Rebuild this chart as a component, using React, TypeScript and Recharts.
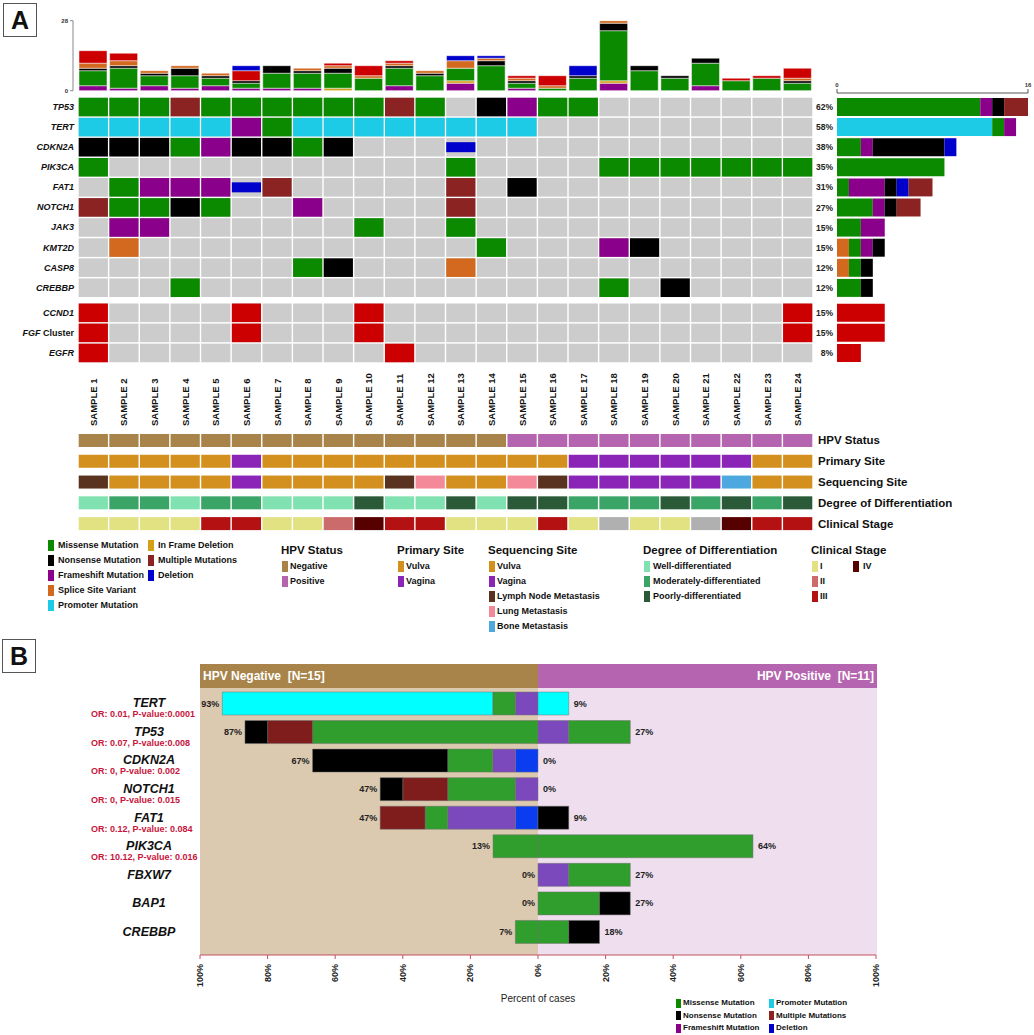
import React from "react";
import { BarChart, Bar, XAxis, YAxis, ScatterChart, Scatter, LabelList } from "recharts";

const FONT = "'Liberation Sans', Arial, Helvetica, sans-serif";

// ---------- Panel A data ----------
const samples = [
  "SAMPLE 1", "SAMPLE 2", "SAMPLE 3", "SAMPLE 4", "SAMPLE 5", "SAMPLE 6", "SAMPLE 7", "SAMPLE 8",
  "SAMPLE 9", "SAMPLE 10", "SAMPLE 11", "SAMPLE 12", "SAMPLE 13", "SAMPLE 14", "SAMPLE 15", "SAMPLE 16",
  "SAMPLE 17", "SAMPLE 18", "SAMPLE 19", "SAMPLE 20", "SAMPLE 21", "SAMPLE 22", "SAMPLE 23", "SAMPLE 24",
];

// mutation counts per sample (top bars), stacked bottom -> top
const topFrameshift = [2, 1, 2, 1, 2, 1, 1, 1, 0, 0, 2, 0, 3, 0, 1, 0, 0, 3, 0, 0, 2, 0, 0, 0];
const topInframe = [0, 0, 0, 0, 0, 0, 0, 0, 1, 0, 0, 0, 1, 0, 0, 0, 0, 1, 0, 0, 0, 0, 0, 0];
const topMissense = [6, 8, 4, 5, 3, 2, 6, 6, 6, 5, 7, 6, 5, 10, 2, 1, 5, 20, 8, 5, 9, 4, 5, 3];
const topNonsense = [1, 1, 1, 3, 1, 1, 3, 1, 2, 0, 1, 1, 0, 2, 1, 0, 1, 3, 2, 1, 2, 0, 0, 1];
const topSplice = [2, 2, 1, 1, 1, 0, 0, 1, 1, 1, 1, 1, 3, 1, 1, 1, 0, 1, 0, 0, 0, 0, 0, 1];
const topAmp = [5, 3, 0, 0, 0, 4, 0, 0, 1, 4, 1, 0, 0, 0, 1, 4, 0, 0, 0, 0, 0, 1, 1, 4];
const topDeletion = [0, 0, 0, 0, 0, 2, 0, 0, 0, 0, 0, 0, 2, 1, 0, 0, 4, 0, 0, 0, 0, 0, 0, 0];

const genes = ["TP53", "TERT", "CDKN2A", "PIK3CA", "FAT1", "NOTCH1", "JAK3", "KMT2D", "CASP8", "CREBBP", "CCND1", "FGF Cluster", "EGFR"];
const genePct = ["62%", "58%", "38%", "35%", "31%", "27%", "15%", "15%", "12%", "12%", "15%", "15%", "8%"];
// M missense, N nonsense, F frameshift, S splice, P promoter, X multiple, D deletion, A amplification
const geneRows = [
  "MMMXMMMMMMXM.NFMM.......",
  "PPPPPFMPPPPPPPP.........",
  "NNNMFNNMN...D...........",
  "M...........M....MMMMMMM",
  ".MFFFDX.....X.N.........",
  "XMMNM..F....X...........",
  ".FF......M..M...........",
  ".S...........M...FN.....",
  ".......MN...S...........",
  "...M.............M.N....",
  "A....A...A.............A",
  "A....A...A.............A",
  "A.........A.............",
];

// right-side counts per gene
const rbSplice = [0, 0, 0, 0, 0, 0, 0, 1, 1, 0, 0, 0, 0];
const rbPromoter = [0, 13, 0, 0, 0, 0, 0, 0, 0, 0, 0, 0, 0];
const rbMissense = [12, 1, 2, 9, 1, 3, 2, 1, 1, 2, 0, 0, 0];
const rbFrameshift = [1, 1, 1, 0, 3, 1, 2, 1, 0, 0, 0, 0, 0];
const rbNonsense = [1, 0, 6, 0, 1, 1, 0, 1, 1, 1, 0, 0, 0];
const rbDeletion = [0, 0, 1, 0, 1, 0, 0, 0, 0, 0, 0, 0, 0];
const rbMultiple = [2, 0, 0, 0, 2, 2, 0, 0, 0, 0, 0, 0, 0];
const rbAmp = [0, 0, 0, 0, 0, 0, 0, 0, 0, 0, 4, 4, 2];

const trackNames = ["HPV Status", "Primary Site", "Sequencing Site", "Degree of Differentiation", "Clinical Stage"];
const hpvStatus = "NNNNNNNNNNNNNNPPPPPPPPPP";
const primarySite = "VVVVVGVVVVVVVVVVGGGGGGVV";
const seqSite = "LVVVVGVVVVLUVVULGGGGGBVV";
const differentiation = "WMMWMMWWWPWWPWPPMMMPMPMP";
const clinicalStage = "11113311243311131x11x433";
const tracks = [hpvStatus, primarySite, seqSite, differentiation, clinicalStage];

// ---------- Panel B data ----------
const genesB = ["TERT", "TP53", "CDKN2A", "NOTCH1", "FAT1", "PIK3CA", "FBXW7", "BAP1", "CREBBP"];
const orLabels = [
  "OR: 0.01, P-value:0.0001", "OR: 0.07, P-value:0.008", "OR: 0, P-value: 0.002", "OR: 0, P-value: 0.015",
  "OR: 0.12, P-value: 0.084", "OR: 10.12, P-value: 0.016", "", "", "",
];
// HPV negative (N=15), percent of cases
const negDeletion = [0, 0, 6.7, 0, 6.7, 0, 0, 0, 0];
const negFrameshift = [6.7, 0, 6.7, 6.7, 20, 0, 0, 0, 0];
const negMissense = [6.7, 66.7, 13.3, 20, 6.7, 13.3, 0, 0, 6.7];
const negPromoter = [80, 0, 0, 0, 0, 0, 0, 0, 0];
const negMultiple = [0, 13.3, 0, 13.3, 13.3, 0, 0, 0, 0];
const negNonsense = [0, 6.7, 40, 6.7, 0, 0, 0, 0, 0];
const negLabels = ["93%", "87%", "67%", "47%", "47%", "13%", "0%", "0%", "7%"];
// HPV positive (N=11)
const posDeletion = [0, 0, 0, 0, 0, 0, 0, 0, 0];
const posFrameshift = [0, 9.1, 0, 0, 0, 0, 9.1, 0, 0];
const posMissense = [0, 18.2, 0, 0, 0, 63.6, 18.2, 18.2, 9.1];
const posPromoter = [9.1, 0, 0, 0, 0, 0, 0, 0, 0];
const posMultiple = [0, 0, 0, 0, 0, 0, 0, 0, 0];
const posNonsense = [0, 0, 0, 0, 9.1, 0, 0, 9.1, 9.1];
const posLabels = ["9%", "27%", "0%", "0%", "9%", "64%", "27%", "27%", "18%"];
const pctTicks = [-100, -80, -60, -40, -20, 0, 20, 40, 60, 80, 100];
const pctTickLabels = ["100%", "80%", "60%", "40%", "20%", "0%", "20%", "40%", "60%", "80%", "100%"];

// ---------- colours / layout ----------
const COL = {
  mis: "#0b8a00", non: "#000000", fs: "#8b008b", spl: "#d2691e", pro: "#1ecbe6",
  inf: "#d4a017", mul: "#8b2323", del: "#0000cd", amp: "#cc0000", grey: "#cccccc",
};
const codeColor: Record<string, string> = {
  M: COL.mis, N: COL.non, F: COL.fs, S: COL.spl, P: COL.pro, I: COL.inf, X: COL.mul, D: COL.del, A: COL.amp,
};
const trackColors: Record<string, string>[] = [
  { N: "#a8844a", P: "#b565b0" },
  { V: "#d4901f", G: "#8b25b8" },
  { V: "#d4901f", G: "#8b25b8", L: "#5a3320", U: "#f4899a", B: "#4ea8e0" },
  { W: "#80e2b0", M: "#3aa566", P: "#2a5a38" },
  { "1": "#e2e282", "2": "#cc6b6b", "3": "#b41212", "4": "#560000", x: "#b0b0b0" },
];
const BC = { mis: "#2f9e2c", non: "#000000", fs: "#7b49bb", pro: "#00ffff", mul: "#7f1c1c", del: "#0a3cf0" };

const ROW_POS = [0, 1, 2, 3, 4, 5, 6, 7, 8, 9, 10.25, 11.25, 12.25];
const CELL_W = 29.2;
const CELL_H = 18.6;

const sampleNums = samples.map((_, i) => i + 1);
const topData = samples.map((name, i) => ({
  name, fs: topFrameshift[i], inf: topInframe[i], mis: topMissense[i], non: topNonsense[i],
  spl: topSplice[i], amp: topAmp[i], del: topDeletion[i],
}));
const oncoData = genes.flatMap((g, gi) =>
  geneRows[gi].split("").map((c, si) => ({ s: si + 1, y: ROW_POS[gi], code: c }))
);
const trackData = tracks.flatMap((codes, ti) =>
  codes.split("").map((c, si) => ({ s: si + 1, row: ti, t: ti, c }))
);
const rightData = genes.map((gene, i) => ({
  gene, spl: rbSplice[i], pro: rbPromoter[i], mis: rbMissense[i], fs: rbFrameshift[i],
  non: rbNonsense[i], del: rbDeletion[i], mul: rbMultiple[i], amp: rbAmp[i],
}));
const bData = genesB.map((gene, i) => ({
  gene,
  nDel: -negDeletion[i], nFs: -negFrameshift[i], nMis: -negMissense[i], nPro: -negPromoter[i],
  nMul: -negMultiple[i], nNon: -negNonsense[i], nEdge: -0.0001, nLbl: negLabels[i],
  pDel: posDeletion[i], pFs: posFrameshift[i], pMis: posMissense[i], pPro: posPromoter[i],
  pMul: posMultiple[i], pNon: posNonsense[i], pEdge: 0.0001, pLbl: posLabels[i],
}));

// ---------- small render helpers ----------
function OncoCell(props: any) {
  const { cx, cy, payload } = props;
  const c = payload.code;
  const x = cx - CELL_W / 2;
  const y = cy - CELL_H / 2;
  return (
    <g>
      <rect x={x} y={y} width={CELL_W} height={CELL_H} fill={COL.grey} />
      {c === "D" && <rect x={x} y={cy - 5} width={CELL_W} height={10} fill={COL.del} />}
      {c !== "." && c !== "D" && <rect x={x} y={y} width={CELL_W} height={CELL_H} fill={codeColor[c]} />}
    </g>
  );
}

function TrackCell(props: any) {
  const { cx, cy, payload } = props;
  return <rect x={cx - CELL_W / 2} y={cy - 6.5} width={CELL_W} height={13} fill={trackColors[payload.t][payload.c]} />;
}

function GeneTick(props: any) {
  const { x, y, payload } = props;
  const name = genes[ROW_POS.indexOf(payload.value)];
  if (name === "FGF Cluster") {
    return (
      <text x={x} y={y} textAnchor="end" dominantBaseline="central" fontSize={9} fontWeight="bold" fill="#111">
        <tspan fontStyle="italic">FGF</tspan>
        <tspan>{" Cluster"}</tspan>
      </text>
    );
  }
  return (
    <text x={x} y={y} textAnchor="end" dominantBaseline="central" fontSize={9} fontWeight="bold" fontStyle="italic" fill="#111">
      {name}
    </text>
  );
}

function SampleTick(props: any) {
  const { x, y, payload } = props;
  const yy = y + 63;
  return (
    <text x={x} y={yy} transform={`rotate(-90 ${x} ${yy})`} textAnchor="start" dominantBaseline="central" fontSize={9.5} fontWeight="bold" fill="#111">
      {samples[payload.value - 1]}
    </text>
  );
}

function TrackTick(props: any) {
  const { x, y, payload } = props;
  return (
    <text x={x} y={y} dominantBaseline="central" fontSize={11.5} fontWeight="bold" fill="#111">
      {trackNames[payload.value]}
    </text>
  );
}

function PctTick(props: any) {
  const { x, y, payload } = props;
  return (
    <text x={x} y={y} transform={`rotate(-90 ${x} ${y})`} textAnchor="end" dominantBaseline="central" fontSize={9} fontWeight="bold" fill="#222">
      {pctTickLabels[pctTicks.indexOf(payload.value)]}
    </text>
  );
}

function GeneTickB(props: any) {
  const { x, y, payload } = props;
  const i = genesB.indexOf(payload.value);
  return (
    <g>
      <text x={x - 51} y={y} textAnchor="middle" dominantBaseline="central" fontSize={12.5} fontWeight="bold" fontStyle="italic" fill="#111">
        {payload.value}
      </text>
      {orLabels[i] && (
        <text x={x - 109} y={y + 11} dominantBaseline="central" fontSize={9} fontWeight="bold" fill="#c8143c">
          {orLabels[i]}
        </text>
      )}
    </g>
  );
}

function edgeBox(props: any) {
  const vb = props.viewBox || {};
  const x = props.x ?? vb.x;
  const y = props.y ?? vb.y;
  const w = props.width ?? vb.width ?? 0;
  const h = props.height ?? vb.height ?? 0;
  return { x, y, w, h };
}

function NegLabel(props: any) {
  const { x, y, w, h } = edgeBox(props);
  return (
    <text x={Math.min(x, x + w) - 3} y={y + h / 2} textAnchor="end" dominantBaseline="central" fontSize={9} fontWeight="bold" fill="#222">
      {props.value}
    </text>
  );
}

function PosLabel(props: any) {
  const { x, y, w, h } = edgeBox(props);
  return (
    <text x={Math.max(x, x + w) + 5} y={y + h / 2} dominantBaseline="central" fontSize={9} fontWeight="bold" fill="#222">
      {props.value}
    </text>
  );
}

const abs: React.CSSProperties = { position: "absolute", left: 0, top: 0 };

function Txt({ x, y, size, bold = true, color = "#111", children }: any) {
  return (
    <div style={{
      position: "absolute", left: x, top: y - size * 0.6, fontSize: size, lineHeight: `${size * 1.2}px`,
      fontWeight: bold ? "bold" : "normal", color, whiteSpace: "pre",
    }}>{children}</div>
  );
}

function Sw({ x, y, color, w = 6, h = 11 }: any) {
  return <div style={{ position: "absolute", left: x, top: y - h / 2, width: w, height: h, background: color }} />;
}

function PanelBox({ label, left, top }: any) {
  return (
    <div style={{
      position: "absolute", left, top, width: 32, height: 32, border: "1.5px solid #555",
      display: "flex", alignItems: "center", justifyContent: "center", fontSize: 25, fontWeight: "bold", color: "#111",
    }}>{label}</div>
  );
}

// ---------- Panel A pieces ----------
function TopBars() {
  const series: [string, string][] = [
    ["fs", COL.fs], ["inf", COL.inf], ["mis", COL.mis], ["non", COL.non], ["spl", COL.spl], ["amp", COL.amp], ["del", COL.del],
  ];
  return (
    <div style={abs}>
      <BarChart width={1034} height={100} data={topData} margin={{ top: 20.7, right: 221, bottom: 9.3, left: 53 }} barSize={28}>
        <XAxis dataKey="name" hide padding={{ left: 5, right: 0 }} />
        <YAxis
          type="number" domain={[0, 28]} allowDataOverflow ticks={[0, 28]} width={20} tickSize={3} tickMargin={2}
          axisLine={{ stroke: "#888" }} tickLine={{ stroke: "#888" }}
          tick={{ fontSize: 6, fontWeight: "bold", fill: "#333" }}
        />
        {series.map(([k, c]) => (
          <Bar key={k} dataKey={k} stackId="a" fill={c} stroke="#ffffff" strokeWidth={0.5} isAnimationActive={false} />
        ))}
      </BarChart>
    </div>
  );
}

function Oncoprint() {
  return (
    <div style={abs}>
      <ScatterChart width={1034} height={440} margin={{ top: 97, right: 221, bottom: 0, left: 0 }}>
        <XAxis
          type="number" dataKey="s" domain={[0.5, 24.5]} allowDataOverflow ticks={sampleNums} interval={0}
          height={77} axisLine={false} tickLine={false} tickSize={0} tickMargin={0}
          tick={(p: any) => <SampleTick {...p} />}
        />
        <YAxis
          type="number" dataKey="y" domain={[-0.5, 12.75]} allowDataOverflow reversed ticks={ROW_POS} interval={0}
          width={78} axisLine={false} tickLine={false} tickSize={0} tickMargin={4}
          tick={(p: any) => <GeneTick {...p} />}
        />
        <Scatter data={oncoData} shape={(p: any) => <OncoCell {...p} />} isAnimationActive={false} />
      </ScatterChart>
    </div>
  );
}

const rbSeries: [string, string][] = [
  ["spl", COL.spl], ["pro", COL.pro], ["mis", COL.mis], ["fs", COL.fs], ["non", COL.non], ["del", COL.del], ["mul", COL.mul], ["amp", COL.amp],
];

function RightBars() {
  const pctOf = (g: string) => genePct[genes.indexOf(g)];
  return (
    <>
      <div style={abs}>
        <BarChart width={1034} height={298} data={rightData.slice(0, 10)} layout="vertical" margin={{ top: 79, right: 6, bottom: 0, left: 813 }} barSize={18}>
          <XAxis
            type="number" orientation="top" domain={[0, 16]} allowDataOverflow ticks={[0, 16]} height={14}
            tickSize={4} tickMargin={2} axisLine={{ stroke: "#555" }} tickLine={{ stroke: "#555" }}
            tick={{ fontSize: 6, fontWeight: "bold", fill: "#333" }}
          />
          <YAxis
            type="category" dataKey="gene" width={24} padding={{ top: 4, bottom: 0 }} interval={0}
            axisLine={false} tickLine={false} tickSize={0} tickMargin={4} tickFormatter={pctOf}
            tick={{ fontSize: 8.5, fontWeight: "bold", fill: "#222" }}
          />
          {rbSeries.map(([k, c]) => (
            <Bar key={k} dataKey={k} stackId="r" fill={c} isAnimationActive={false} />
          ))}
        </BarChart>
      </div>
      <div style={abs}>
        <BarChart width={1034} height={363} data={rightData.slice(10)} layout="vertical" margin={{ top: 302.7, right: 6, bottom: 0, left: 813 }} barSize={18}>
          <XAxis type="number" domain={[0, 16]} allowDataOverflow hide />
          <YAxis
            type="category" dataKey="gene" width={24} interval={0}
            axisLine={false} tickLine={false} tickSize={0} tickMargin={4} tickFormatter={pctOf}
            tick={{ fontSize: 8.5, fontWeight: "bold", fill: "#222" }}
          />
          {rbSeries.map(([k, c]) => (
            <Bar key={k} dataKey={k} stackId="r" fill={c} isAnimationActive={false} />
          ))}
        </BarChart>
      </div>
    </>
  );
}

function Tracks() {
  return (
    <div style={abs}>
      <ScatterChart width={1034} height={534} margin={{ top: 430.1, right: 0, bottom: 0, left: 78 }}>
        <XAxis type="number" dataKey="s" domain={[0.5, 24.5]} allowDataOverflow hide />
        <YAxis
          type="number" dataKey="row" orientation="right" domain={[-0.5, 4.5]} allowDataOverflow reversed
          ticks={[0, 1, 2, 3, 4]} interval={0} width={221} axisLine={false} tickLine={false} tickSize={0} tickMargin={5}
          tick={(p: any) => <TrackTick {...p} />}
        />
        <Scatter data={trackData} shape={(p: any) => <TrackCell {...p} />} isAnimationActive={false} />
      </ScatterChart>
    </div>
  );
}

const mutLegendA1 = [
  ["Missense Mutation", COL.mis], ["Nonsense Mutation", COL.non], ["Frameshift Mutation", COL.fs],
  ["Splice Site Variant", COL.spl], ["Promoter Mutation", COL.pro],
];
const mutLegendA2 = [["In Frame Deletion", COL.inf], ["Multiple Mutations", COL.mul], ["Deletion", COL.del]];
const legendGroups = [
  { title: "HPV Status", x: 281, tx: 290, items: [["Negative", "#a8844a"], ["Positive", "#b565b0"]] },
  { title: "Primary Site", x: 397, tx: 406, items: [["Vulva", "#d4901f"], ["Vagina", "#8b25b8"]] },
  {
    title: "Sequencing Site", x: 488, tx: 497,
    items: [["Vulva", "#d4901f"], ["Vagina", "#8b25b8"], ["Lymph Node Metastasis", "#5a3320"], ["Lung Metastasis", "#f4899a"], ["Bone Metastasis", "#4ea8e0"]],
  },
  {
    title: "Degree of Differentiation", x: 643, tx: 653,
    items: [["Well-differentiated", "#80e2b0"], ["Moderately-differentiated", "#3aa566"], ["Poorly-differentiated", "#2a5a38"]],
  },
  { title: "Clinical Stage", x: 811, tx: 820, items: [["I", "#e2e282"], ["II", "#cc6b6b"], ["III", "#b41212"]] },
];

function LegendA() {
  return (
    <>
      {mutLegendA1.map(([t, c], i) => (
        <React.Fragment key={t}>
          <Sw x={48} y={545 + i * 15} color={c} />
          <Txt x={58} y={545 + i * 15} size={9}>{t}</Txt>
        </React.Fragment>
      ))}
      {mutLegendA2.map(([t, c], i) => (
        <React.Fragment key={t}>
          <Sw x={148} y={545 + i * 15} color={c} />
          <Txt x={158} y={545 + i * 15} size={9}>{t}</Txt>
        </React.Fragment>
      ))}
      {legendGroups.map((g) => (
        <React.Fragment key={g.title}>
          <Txt x={g.x} y={551} size={11.5}>{g.title}</Txt>
          {g.items.map(([t, c], i) => (
            <React.Fragment key={t}>
              <Sw x={g.x + 1} y={566 + i * 15} color={c} />
              <Txt x={g.tx} y={566 + i * 15} size={9}>{t}</Txt>
            </React.Fragment>
          ))}
        </React.Fragment>
      ))}
      <Sw x={853} y={566} color="#560000" />
      <Txt x={863} y={566} size={9}>IV</Txt>
    </>
  );
}

// ---------- Panel B ----------
const bNeg: [string, string][] = [["nDel", BC.del], ["nFs", BC.fs], ["nMis", BC.mis], ["nPro", BC.pro], ["nMul", BC.mul], ["nNon", BC.non]];
const bPos: [string, string][] = [["pDel", BC.del], ["pFs", BC.fs], ["pMis", BC.mis], ["pPro", BC.pro], ["pMul", BC.mul], ["pNon", BC.non]];
const mutLegendB1 = [["Missense Mutation", COL.mis], ["Nonsense Mutation", COL.non], ["Frameshift Mutation", COL.fs]];
const mutLegendB2 = [["Promoter Mutation", COL.pro], ["Multiple Mutations", COL.mul], ["Deletion", COL.del]];

function PanelB() {
  const box = (left: number, top: number, width: number, height: number, bg: string) => (
    <div style={{ position: "absolute", left, top, width, height, background: bg }} />
  );
  return (
    <>
      {box(200, 664, 338, 24, "#a8844a")}
      {box(538, 664, 339, 24, "#b565b0")}
      {box(200, 688, 338, 267, "#dccab0")}
      {box(538, 688, 339, 267, "#efdfee")}
      <Txt x={203} y={676} size={12} color="#fff">{"HPV Negative  [N=15]"}</Txt>
      <div style={{
        position: "absolute", right: 1034 - 874, top: 676 - 7.2, fontSize: 12, lineHeight: "14.4px",
        fontWeight: "bold", color: "#fff", whiteSpace: "pre",
      }}>{"HPV Positive  [N=11]"}</div>
      <div style={abs}>
        <BarChart width={1034} height={1035} data={bData} layout="vertical" stackOffset="sign" barSize={23}
          margin={{ top: 689, right: 158, bottom: 40, left: 0 }}>
          <XAxis
            type="number" domain={[-100, 100]} allowDataOverflow ticks={pctTicks} interval={0} height={40}
            axisLine={{ stroke: "#c25060" }} tickLine={{ stroke: "#c25060" }} tickSize={4} tickMargin={5}
            tick={(p: any) => <PctTick {...p} />}
          />
          <YAxis
            type="category" dataKey="gene" width={200} padding={{ top: 0, bottom: 9 }} interval={0}
            axisLine={false} tickLine={false} tickSize={0} tickMargin={0}
            tick={(p: any) => <GeneTickB {...p} />}
          />
          {bNeg.map(([k, c]) => (
            <Bar key={k} dataKey={k} stackId="b" fill={c} stroke="#707070" strokeWidth={0.5} isAnimationActive={false} />
          ))}
          <Bar dataKey="nEdge" stackId="b" fill="transparent" isAnimationActive={false}>
            <LabelList dataKey="nLbl" content={(p: any) => <NegLabel {...p} />} />
          </Bar>
          {bPos.map(([k, c]) => (
            <Bar key={k} dataKey={k} stackId="b" fill={c} stroke="#707070" strokeWidth={0.5} isAnimationActive={false} />
          ))}
          <Bar dataKey="pEdge" stackId="b" fill="transparent" isAnimationActive={false}>
            <LabelList dataKey="pLbl" content={(p: any) => <PosLabel {...p} />} />
          </Bar>
        </BarChart>
      </div>
      <div style={{ position: "absolute", left: 438, width: 200, top: 993, textAlign: "center", fontSize: 10, color: "#222" }}>
        Percent of cases
      </div>
      {mutLegendB1.map(([t, c], i) => (
        <React.Fragment key={t}>
          <Sw x={676} y={1003 + i * 12.5} color={c} w={5} h={9} />
          <Txt x={683} y={1003 + i * 12.5} size={8}>{t}</Txt>
        </React.Fragment>
      ))}
      {mutLegendB2.map(([t, c], i) => (
        <React.Fragment key={t}>
          <Sw x={769} y={1003 + i * 12.5} color={c} w={5} h={9} />
          <Txt x={776} y={1003 + i * 12.5} size={8}>{t}</Txt>
        </React.Fragment>
      ))}
    </>
  );
}

export default function App() {
  return (
    <div style={{ position: "absolute", left: 0, top: 0, width: 1034, height: 1035, background: "#fff", fontFamily: FONT, overflow: "hidden" }}>
      <PanelBox label="A" left={3} top={3} />
      <TopBars />
      <Oncoprint />
      <RightBars />
      <Tracks />
      <LegendA />
      <PanelBox label="B" left={2} top={639} />
      <PanelB />
    </div>
  );
}
